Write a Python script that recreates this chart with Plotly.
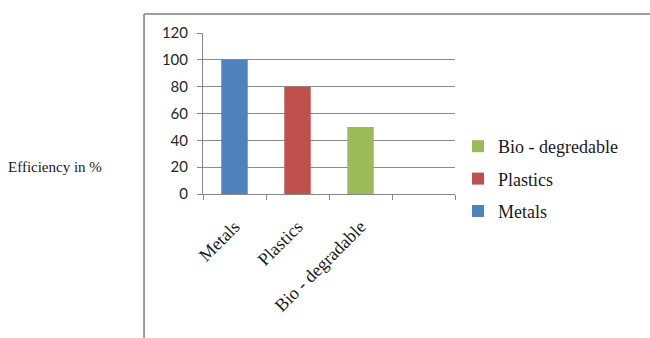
import plotly.graph_objects as go

# Efficiency by material
materials = ["Metals", "Plastics", "Bio - degradable"]
efficiency = [100, 80, 50]
colors = ["#4F81BD", "#C0504D", "#9BBB59"]
legend_names = ["Metals", "Plastics", "Bio - degredable"]
legend_ranks = [3, 2, 1]
categories = materials + [" "]  # trailing empty slot on the category axis
y_ticks = [0, 20, 40, 60, 80, 100, 120]

SERIF = "Liberation Serif, Times New Roman, serif"
SANS = "Lato, Carlito, Calibri, sans-serif"

fig = go.Figure()
for name, label, rank, val, col in zip(materials, legend_names, legend_ranks, efficiency, colors):
    fig.add_trace(go.Bar(
        x=[name], y=[val], name=label, legendgroup=label, legendrank=rank,
        marker=dict(color=col, line=dict(width=0)),
        width=0.42,
    ))

fig.update_layout(
    width=650, height=338,
    margin=dict(l=203, r=195, t=33, b=144),
    paper_bgcolor="white", plot_bgcolor="white",
    barmode="overlay",
    showlegend=True,
    legend=dict(
        x=1.012, xanchor="left", y=0.41, yanchor="top",
        traceorder="grouped", tracegroupgap=6,
        font=dict(family=SERIF, size=18, color="#1a1a1a"),
        bgcolor="rgba(0,0,0,0)",
    ),
    xaxis=dict(
        type="category", categoryorder="array", categoryarray=categories,
        range=[-0.5, 3.5], tickvals=categories,
        tickangle=-45, tickson="boundaries", ticks="outside", ticklen=5,
        tickcolor="#888888", ticklabelstandoff=14,
        showline=True, linecolor="#888888", linewidth=1,
        showgrid=False, zeroline=False,
        tickfont=dict(family=SERIF, size=18, color="#1a1a1a"),
    ),
    yaxis=dict(
        range=[0, 120], tickvals=y_ticks,
        ticks="outside", ticklen=5, tickcolor="#888888",
        ticklabelstandoff=6,
        showline=True, linecolor="#888888", linewidth=1,
        showgrid=True, gridcolor="#8c8c8c", gridwidth=1,
        zeroline=False,
        tickfont=dict(family=SANS, size=15, color="#262626"),
    ),
    annotations=[dict(
        text="Efficiency in %", xref="paper", yref="paper",
        x=-0.78, y=0.168, xanchor="left", yanchor="middle",
        showarrow=False, font=dict(family=SERIF, size=15, color="#1a1a1a"),
    )],
    shapes=[
        # chart-area frame: top and left edges
        dict(type="line", xref="paper", yref="paper",
             x0=-0.234, x1=1.8, y0=1.118, y1=1.118,
             line=dict(color="#7f7f7f", width=1.5)),
        dict(type="line", xref="paper", yref="paper",
             x0=-0.234, x1=-0.234, y0=1.118, y1=-1.0,
             line=dict(color="#7f7f7f", width=1.5)),
    ],
)

fig.write_html("out.html")
